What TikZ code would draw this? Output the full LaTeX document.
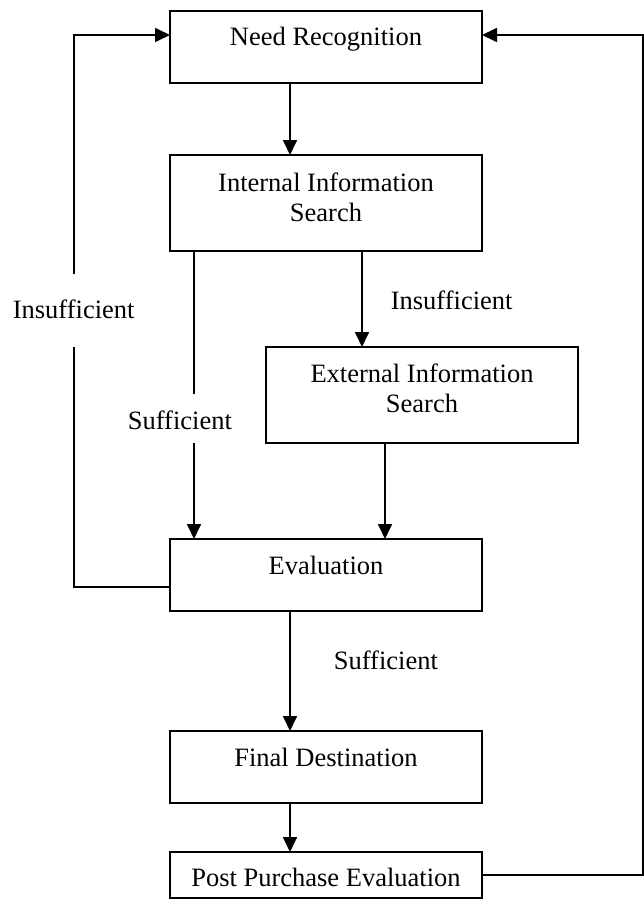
\documentclass[tikz,border=0pt]{standalone}
\usepackage{fontspec}
\setmainfont{Liberation Serif}
\usetikzlibrary{arrows.meta}
\begin{document}
\begin{tikzpicture}[x=1pt,y=-1pt,line width=1.7pt,
  box/.style={draw, rectangle, inner sep=0pt, outer sep=0pt, anchor=north west, minimum width=312pt},
  lbl/.style={inner sep=0pt, font=\fontsize{26.5}{30}\selectfont},
  arr/.style={-{Triangle[length=15pt,width=14pt]}}]
\useasboundingbox (0,0) rectangle (644,899);
% boxes
\node[box, minimum height=72pt] (need) at (170,11) {};
\node[box, minimum height=96pt] (internal) at (170,155) {};
\node[box, minimum height=96pt] (external) at (266,347) {};
\node[box, minimum height=72pt] (eval) at (170,539) {};
\node[box, minimum height=72pt] (final) at (170,731) {};
\node[box, minimum height=46pt] (post) at (170,852) {};
% box texts
\node[lbl, anchor=base] (tneed) at (326,46) {Need Recognition};
\node[lbl, align=center] (tint) at (326,197) {Internal Information\\Search};
\node[lbl, align=center] (text) at (422,388.5) {External Information\\Search};
\node[lbl, anchor=base] (teval) at (326,574) {Evaluation};
\node[lbl, anchor=base] (tfin) at (326,766) {Final Destination};
\node[lbl, anchor=base] (tpost) at (326,886) {Post Purchase Evaluation};
% connector labels
\node[lbl, anchor=base west] (insR) at (390,309) {Insufficient};
\node[lbl, anchor=base west] (insL) at (12,318) {Insufficient};
\node[lbl, anchor=base west] (sufL) at (127,429) {Sufficient};
\node[lbl, anchor=base west] (sufB) at (333,669) {Sufficient};
% gap coordinates
\coordinate (g1) at (194,394);
\coordinate (g2) at (194,443);
\coordinate (lg1) at (74,347);
\coordinate (lg2) at (74,274);
% connectors
\draw[arr] ([xshift=120pt]need.south west) -- ([xshift=120pt]internal.north west);
\draw ([xshift=24pt]internal.south west) -- (g1);
\draw[arr] (g2) -- ([xshift=24pt]eval.north west);
\draw[arr] ([xshift=192pt]internal.south west) -- ([xshift=96pt]external.north west);
\draw[arr] ([xshift=119pt]external.south west) -- ([xshift=215pt]eval.north west);
\draw[arr] ([xshift=120pt]eval.south west) -- ([xshift=120pt]final.north west);
\draw[arr] ([xshift=120pt]final.south west) -- ([xshift=120pt]post.north west);
\draw[arr] (post.east) -- ++(161,0) |- ([yshift=-24pt]need.north east);
\draw ([yshift=-48pt]eval.north west) -| (lg1);
\draw[arr] (lg2) |- ([yshift=-24pt]need.north west);
\end{tikzpicture}
\end{document}
